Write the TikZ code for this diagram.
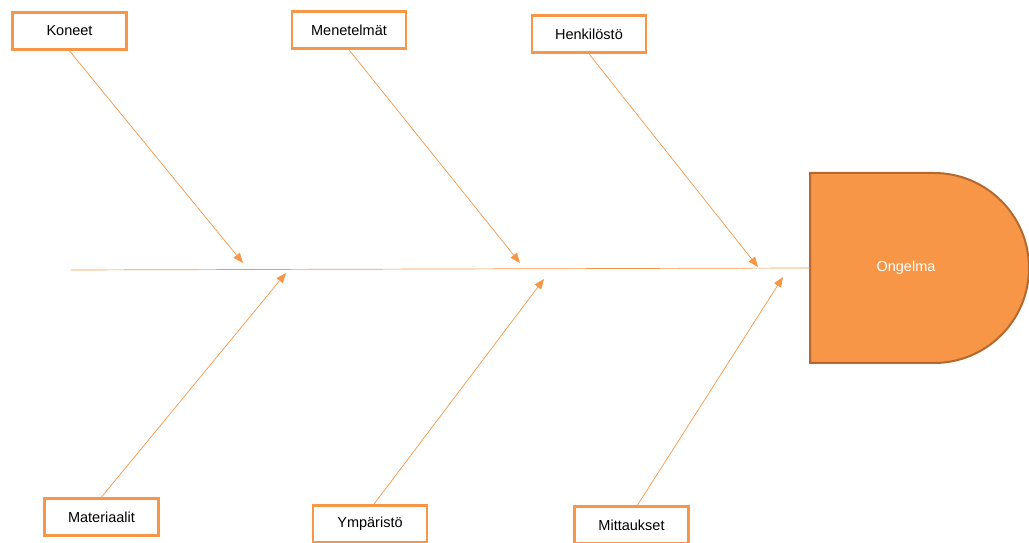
\documentclass[tikz,border=0pt]{standalone}
\usepackage{fontspec}
\setmainfont{Liberation Sans}
\usetikzlibrary{arrows.meta}
\definecolor{accent}{HTML}{F79646}
\definecolor{accentdark}{HTML}{B5682D}
\tikzset{
  cause/.style={draw=accent,line width=2.8pt,fill=white,minimum width=114pt,
    minimum height=37pt,inner sep=0pt,font=\fontsize{14.5}{17}\selectfont},
  bone/.style={draw=accent,line width=0.7pt,-{Triangle[length=10pt,width=8pt]}}
}
\begin{document}
\begin{tikzpicture}[x=1pt,y=1pt]
\useasboundingbox (0,0) rectangle (1029,543);

% head of the fish
\draw[fill=accent,draw=accentdark,line width=2pt] (810,180) -- (934,180) arc (-90:90:95) -- (810,370) -- cycle;
\node[text=white,font=\fontsize{14.5}{17}\selectfont] (ongelma) at (906,275) {Ongelma};

\coordinate (tail) at (71,273);
\coordinate (head) at (810,275);
\draw[draw=accent,line width=0.7pt] (tail) -- (head);

% causes
\node[cause] (koneet) at (69.5,512) {Koneet};
\node[cause] (menetelmat) at (349,513) {Menetelmät};
\node[cause] (henkilosto) at (589,509) {Henkilöstö};
\node[cause] (materiaalit) at (101.5,26) {Materiaalit};
\node[cause] (ymparisto) at (370,19) {Ympäristö};
\node[cause] (mittaukset) at (631.5,18) {Mittaukset};

\coordinate (k) at (243,280);
\coordinate (m) at (520,280);
\coordinate (h) at (758,276);
\coordinate (ma) at (286,270);
\coordinate (y) at (544,264);
\coordinate (mi) at (783,266);

\draw[bone] (koneet.south) -- (k);
\draw[bone] (menetelmat.south) -- (m);
\draw[bone] (henkilosto.south) -- (h);
\draw[bone] (materiaalit.north) -- (ma);
\draw[bone] ([xshift=4pt]ymparisto.north) -- (y);
\draw[bone] ([xshift=6pt]mittaukset.north) -- (mi);

\end{tikzpicture}
\end{document}
